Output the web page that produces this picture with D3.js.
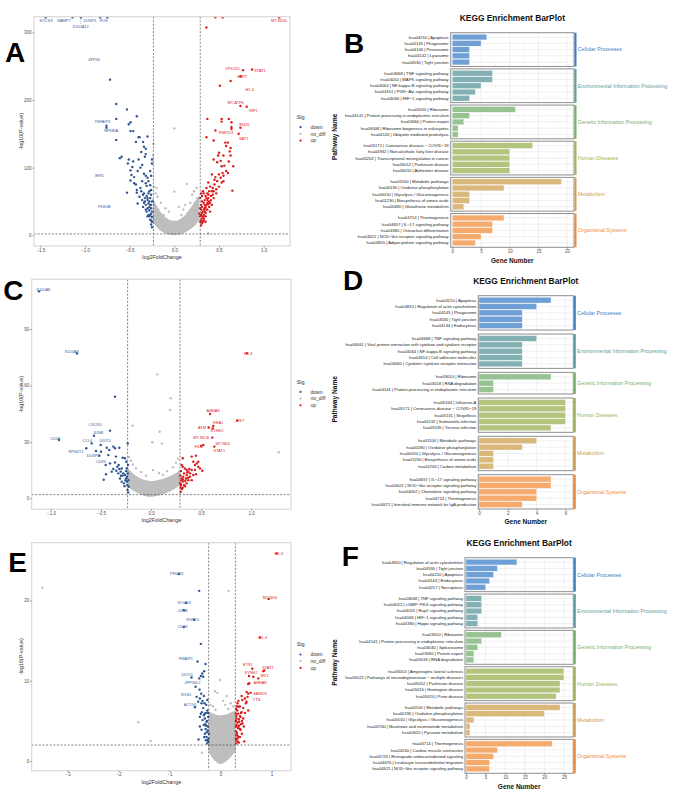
<!DOCTYPE html>
<html>
<head>
<meta charset="utf-8">
<title>Volcano plots and KEGG enrichment bar plots</title>
<script src="https://d3js.org/d3.v7.min.js"></script>
<style>
  body { margin: 0; background: #fff; }
  svg { display: block; }
  text { font-family: "Liberation Sans", Arial, sans-serif; }
</style>
</head>
<body>
<svg width="685" height="802"></svg>
<script>
// ---------- volcano data (log2FoldChange, -log10(P-value)) ----------
const volcA_down = [
  [-1.44,322],[-1.14,322],[-1.045,322],[-0.83,322],[-0.75,322],
  [-0.72,230],[-0.65,194],[-0.65,172],[-0.53,186],[-0.42,176],[-0.49,167],[-0.51,164],[-0.76,162],[-0.76,159],
  [-0.49,154],[-0.46,154],[-0.65,141],[-0.43,138],[-0.40,145],[-0.39,145],[-0.30,146],[-0.35,138],[-0.34,131],
  [-0.32,128],[-0.37,123],[-0.59,116],[-0.61,114],[-0.51,112],[-0.52,106],[-0.46,109],[-0.47,101],[-0.49,96],
  [-0.40,112],[-0.32,120],[-0.33,116],[-0.25,112],[-0.25,106],[-0.48,89],[-0.45,86],[-0.49,81],[-0.45,77],
  [-0.43,75],[-0.34,91],[-0.32,88],[-0.32,77],[-0.31,73],[-0.53,63],[-0.42,67],[-0.42,63],[-0.39,57],[-0.36,52],
  [-0.34,62],[-0.27,74],[-0.26,67],[-0.26,60],[-0.41,47],[-0.35,42],[-0.32,45],[-0.30,40],[-0.28,37],[-0.26,32],
  [-0.25,27],[-0.27,23],[-0.25,12],[-0.33,50],[-0.30,55],[-0.28,50],[-0.27,45],[-0.31,35],[-0.29,30],[-0.26,40],
  [-0.25,50],[-0.38,70],[-0.36,80],[-0.30,85],[-0.28,65],[-0.41,95],[-0.38,100],[-0.36,104],[-0.27,95],[-0.26,88],
  [-0.29,80],[-0.25,20],[-0.26,16],[-0.28,28],
  [-0.26,22],[-0.27,30],[-0.28,42],[-0.29,47],[-0.30,52],[-0.31,58],[-0.33,55],[-0.35,60],[-0.37,65],[-0.29,62],
  [-0.27,55],[-0.25,35],[-0.26,45],[-0.30,28],[-0.32,38],[-0.34,48]
];
const volcA_up = [
  [0.46,322],[0.54,322],[1.175,322],[0.36,307],[0.77,244],[0.87,245],[0.74,235],[0.63,228],[0.51,221],
  [0.74,191],[0.81,190],[0.37,172],[0.53,172],[0.53,168],[0.61,172],[0.64,167],[0.64,160],[0.64,157],[0.74,159],
  [0.72,150],[0.46,155],[0.36,145],[0.44,140],[0.57,137],[0.60,137],[0.58,132],[0.63,129],[0.62,124],[0.50,122],
  [0.49,118],[0.55,118],[0.52,110],[0.48,108],[0.44,112],[0.61,109],[0.63,118],[0.66,102],[0.56,103],[0.53,102],
  [0.58,95],[0.54,92],[0.50,90],[0.46,86],[0.42,90],[0.45,82],[0.48,80],[0.52,85],[0.55,88],[0.60,92],[0.65,66],
  [0.38,78],[0.36,70],[0.40,72],[0.43,70],[0.47,68],[0.50,72],[0.53,78],[0.33,62],[0.35,58],[0.38,60],[0.41,58],
  [0.44,55],[0.47,62],[0.31,50],[0.33,48],[0.36,45],[0.39,50],[0.42,45],[0.30,38],[0.32,35],[0.34,40],[0.37,38],
  [0.40,35],[0.29,28],[0.31,25],[0.33,30],[0.35,28],[0.29,20],[0.30,15],[0.32,20],[0.30,45],[0.28,32],[0.29,55],
  [0.30,62],[0.34,52],[0.45,75],[0.55,80],[0.31,42],[0.33,38],[0.35,33],[0.37,48],[0.39,42],[0.34,45],[0.36,55],
  [0.30,30],[0.31,33],[0.32,28],[0.33,25],[0.34,35],[0.35,42],[0.36,38],[0.37,52],[0.38,46],[0.40,48],[0.41,52],
  [0.43,60],[0.42,65],[0.39,65],[0.37,62],[0.31,58],[0.32,65],[0.29,40],[0.30,22],[0.31,18],[0.33,22],[0.35,20],
  [0.38,55],[0.44,65]
];
const volcA_ns = [
  [0.0,158],[0.14,76],[0.0,64.5],[0.38,3],[-0.23,72],[-0.2,70],[-0.19,57],[-0.24,52],[-0.22,45],[-0.15,48],
  [-0.1,40],[-0.06,35],[0.05,42],[0.1,38],[0.12,45],[0.2,60],[0.22,65],[0.25,70],[0.26,55],[0.18,48],
  [-0.18,38],[-0.12,30],[0.08,30],[0.15,33],[-0.235,135],[-0.24,118],[-0.21,62],[0.24,45]
];
// dense centre of the non-significant cloud: [x, lower y, upper y]
const volcA_core = [
  [-0.24,20,56],[-0.2,12,44],[-0.15,6,33],[-0.1,2.5,26],[-0.05,0.5,22],[0,0,21],[0.05,0.5,22],
  [0.1,2.5,27],[0.15,6,34],[0.2,11,44],[0.25,17,54],[0.28,22,60]
];
const volcA_labels = [
  ["SOCS3",-1.437,317,"down"],["NAMPT",-1.235,317,"down"],["S100A12",-1.049,309,"down",-1.045,322],
  ["DUSP1",-0.944,317,"down"],["FOS",-0.791,317,"down"],["ZFP36",-0.899,260,"down"],
  ["TNFAIP3",-0.806,168.5,"down"],["NFKBIA",-0.709,154.7,"down"],["IER5",-0.84,88.7,"down"],
  ["PDE4B",-0.784,42.4,"down"],
  ["MT-ND4L",1.175,317,"up"],["VPS13C",0.653,245.8,"up"],["STAT1",0.959,242.9,"up"],["GBP2",0.757,235,"up"],
  ["H1-4",0.843,215.3,"up"],["MT-ATP6",0.687,196,"up"],["IRF1",0.884,184.2,"up"],["IFI44L",0.784,163.5,"up"],
  ["RNF213",0.578,152.2,"up"],["SAT1",0.776,143.3,"up"]
];

const volcC_down = [
  [-1.12,110],[-0.74,77],[-0.92,31],
  [-0.36,54],[-0.41,36],[-0.57,33.3],[-0.593,29.2],[-0.503,28.4],[-0.647,26.6],[-0.55,25.2],[-0.50,24.8],
  [-0.443,26.9],[-0.417,25.7],[-0.377,27.5],[-0.36,26.6],[-0.317,26.9],[-0.233,29.2],[-0.517,22.7],[-0.427,23],
  [-0.35,22.2],[-0.283,21.6],[-0.26,21.3],[-0.453,17.7],[-0.41,18.6],[-0.36,19.1],[-0.337,16.8],[-0.317,15.6],
  [-0.303,14.2],[-0.293,15.9],[-0.277,13.3],[-0.26,12.4],[-0.25,10.6],[-0.243,8.9],[-0.237,7.1],[-0.257,9.7],
  [-0.283,12.1],[-0.327,13.3],[-0.347,14.7],[-0.377,15.6],[-0.393,14.2],[-0.45,12.8],[-0.473,9.9],[-0.31,10.6],
  [-0.27,8],[-0.293,8.9],[-0.227,9.7],[-0.233,13.3],[-0.243,15.9],[-0.23,17.7],[-0.247,19.5],[-0.323,17.7],
  [-0.223,6.2],[-0.235,4.5],[-0.24,11.5],[-0.265,6.5],[-0.3,12],[-0.228,3.2],[-0.25,14.5]
];
const volcC_up = [
  [0.957,77.1],[0.863,41.3],[0.59,44.8],[0.577,37.7],[0.623,38.5],[0.617,37.2],[0.613,32.3],[0.523,28.4],
  [0.633,27.5],[0.50,27.8],[0.45,22.7],[0.317,21.3],[0.407,22.2],[0.423,19.5],[0.44,17.7],[0.457,18.6],
  [0.473,16.8],[0.49,15.9],[0.513,14.7],[0.317,16.8],[0.34,15.9],[0.357,15.1],[0.373,14.2],[0.39,13.3],
  [0.407,15.1],[0.357,12.4],[0.33,13.3],[0.307,10.6],[0.317,8.9],[0.30,7.1],[0.297,3.5],[0.323,11.5],
  [0.35,10.6],[0.373,9.7],[0.39,11.5],[0.423,12.4],[0.45,12.8],[0.407,9.7],[0.357,8],[0.317,5.7],[0.303,9.7],
  [0.33,7.1],[0.343,9.2],[0.363,13.8],[0.383,15.6],[0.44,15.1],[0.473,19.5],[0.307,17.7],[0.293,8],[0.31,5],
  [0.295,12],[0.3,14.5],[0.32,10],[0.34,6.5],[0.37,11],[0.296,5.8]
];
const volcC_ns = [
  [0.063,65.9],[0.197,53.2],[0.19,47],[-0.183,38.6],[0.087,35.4],[0.013,29.8],[0.11,29.1],[1.277,24.5],
  [-0.18,18],[-0.15,16],[-0.1,14],[0.02,15],[0.08,13.5],[0.16,14.5],[0.22,16.5],[0.25,19],[-0.2,20],
  [0.27,21],[-0.22,22],[-0.05,12],[0.12,12.5]
];
const volcC_core = [
  [-0.23,6,16],[-0.15,3,11.5],[-0.05,1,9.5],[0,0.8,9],[0.05,1,9.5],[0.15,2.5,10.8],[0.22,4.5,12.5],[0.29,7,15]
];
const volcC_labels = [
  ["S100A8",-1.077,110.8,"down"],["S100A9",-0.793,78,"down"],["CXCR4",-0.56,39.3,"down"],["JUNB",-0.53,35.1,"down"],
  ["CD69",-0.957,31.9,"down"],["CCL4",-0.637,30.7,"down"],["DDIT4",-0.46,30.7,"down"],["RPS4Y1",-0.75,24.6,"down"],
  ["DUSP2",-0.577,22.7,"down"],["CD83",-0.503,19.3,"down"],
  ["H1-4",0.973,77.1,"up"],["AHNAK",0.623,46.8,"up"],["XIST",0.89,41.3,"up"],["EEA1",0.673,40.4,"up"],
  ["ATM",0.51,37.6,"up"],["SYNE2",0.66,35.8,"up"],["MT-ND4L",0.507,32.3,"up"],["MT-ND6",0.717,28.9,"up"],
  ["H1-2",0.48,27.3,"up"],["STAT1",0.683,25.2,"up"]
];

const volcE_down = [
  [-0.82,23.3],[-0.68,19.7],[-0.72,18.8],[-0.52,17.6],[-0.72,16.7],
  [-0.418,21.2],[-0.386,14.6],[-0.451,12.4],[-0.294,12.1],[-0.32,11.2],[-0.359,10.9],[-0.386,10.6],[-0.34,10.5],
  [-0.418,10.3],[-0.569,10.4],[-0.49,9.25],[-0.412,8.9],[-0.379,8.4],[-0.327,8.1],[-0.405,7.8],[-0.438,7.4],
  [-0.373,7.2],[-0.314,7.2],[-0.503,6.7],[-0.34,6.6],[-0.366,6.1],[-0.386,5.9],[-0.327,5.7],[-0.405,5.5],
  [-0.307,5.3],[-0.353,5.1],[-0.275,4.9],[-0.327,4.5],[-0.405,4.3],[-0.431,2.7],[-0.373,3.9],[-0.307,3.4],
  [-0.275,3.0],[-0.288,2.6],[-0.261,2.2],[-0.294,4.0],[-0.248,4.3],[-0.242,5.5],[-0.26,6.3],[-0.29,6.0],
  [-0.229,3.4],[-0.235,2.8],[-0.28,7.0],[-0.353,7.5],[-0.47,8.0],[-0.25,3.8],[-0.24,2.4],[-0.265,5.0],
  [-0.32,3.0],[-0.3,4.6],[-0.245,6.0],[-0.255,2.6],[-0.27,3.6],[-0.28,4.4],[-0.31,5.9],[-0.26,7.6]
];
const volcE_up = [
  [1.098,25.85],[0.941,20.2],[0.771,15.4],[0.621,11.5],[0.837,11.2],[0.856,11.3],[0.641,10.5],[0.556,10.6],
  [0.739,10.3],[0.542,9.6],[0.562,9.7],[0.51,8.6],[0.542,8.4],[0.588,8.5],[0.412,8.1],[0.425,7.6],[0.477,7.8],
  [0.51,7.4],[0.529,8.0],[0.497,7.2],[0.379,6.8],[0.444,6.6],[0.412,6.1],[0.477,6.0],[0.346,5.9],[0.392,5.5],
  [0.444,5.3],[0.314,5.3],[0.366,4.9],[0.431,4.7],[0.314,4.5],[0.346,4.1],[0.392,3.9],[0.301,3.7],[0.327,3.2],
  [0.379,3.0],[0.301,2.8],[0.34,2.4],[0.307,2.2],[0.464,2.45],[0.301,4.3],[0.301,5.9],[0.327,6.3],[0.457,4.3],
  [0.418,3.4],[0.353,6.8],[0.333,7.2],[0.542,6.3],[0.31,2.6],[0.32,3.5],[0.36,4.4],[0.3,5.0],[0.35,3.0],
  [0.38,5.6],[0.33,4.8],[0.4,4.6],[0.305,6.5],[0.36,2.3],
  [0.31,3.2],[0.33,2.8],[0.34,4.2],[0.36,5.2],[0.38,4.0],[0.40,6.0],[0.42,5.0],[0.31,5.6],[0.32,6.8],[0.35,7.5]
];
const volcE_ns = [
  [-3.49,21.6],[0.157,21.2],[-1.61,4.85],[-1.37,2.5],[-0.013,10.1],[-0.11,8.7],[-0.06,8.5],[0.118,8.1],
  [0.092,7.0],[-0.366,1.04],[-0.2,7],[0.2,7.2],[-0.15,6.8],[0.05,7.5],[0.25,6.8],[-0.1,6.4],[0.15,6.5]
];
const volcE_core = [
  [-0.235,1.2,6.2],[-0.15,0.2,5.9],[-0.05,-0.3,5.7],[0,-0.4,5.7],[0.05,-0.3,5.7],[0.15,0.1,5.9],[0.294,1.2,6.3]
];
const volcE_labels = [
  ["PRDM1",-0.856,23.3,"down"],["SOCS3",-0.712,19.7,"down"],["JUNB",-0.745,18.8,"down"],["RGS10",-0.549,17.6,"down"],
  ["CD69",-0.745,16.7,"down"],["PMAIP1",-0.68,12.8,"down"],["DDIT4",-0.654,10.8,"down"],["ZFP36L2",-0.549,9.8,"down"],
  ["RGS1",-0.673,8.3,"down"],["ACTG1",-0.595,7.05,"down"],
  ["H1-4",1.137,25.85,"up"],["MT-ND6",0.967,20.3,"up"],["H1-3",0.824,15.4,"up"],["ETS1",0.536,12.0,"up"],
  ["STAT1",0.928,11.7,"up"],["SYNE2",0.595,11.0,"up"],["MX1",0.863,10.66,"up"],["AHNAK",0.778,9.75,"up"],
  ["SAMD9",0.771,8.4,"up"],["TTN",0.706,7.6,"up"]
];

// ---------- KEGG data ----------
const categories = ["Cellular Processes", "Environmental Information Processing", "Genetic Information Processing",
  "Human Diseases", "Metabolism", "Organismal Systems"];

const keggB_terms = [
  "hsa04210 | Apoptosis", "hsa04145 | Phagosome", "hsa04146 | Peroxisome", "hsa04142 | Lysosome", "hsa04530 | Tight junction",
  "hsa04668 | TNF signaling pathway", "hsa04010 | MAPK signaling pathway", "hsa04064 | NF-kappa B signaling pathway",
  "hsa04151 | PI3K−Akt signaling pathway", "hsa04066 | HIF−1 signaling pathway",
  "hsa03010 | Ribosome", "hsa04141 | Protein processing in endoplasmic reticulum", "hsa03060 | Protein export",
  "hsa03008 | Ribosome biogenesis in eukaryotes", "hsa04120 | Ubiquitin mediated proteolysis",
  "hsa05171 | Coronavirus disease − COVID−19", "hsa04932 | Non-alcoholic fatty liver disease",
  "hsa05202 | Transcriptional misregulation in cancer", "hsa05012 | Parkinson disease", "hsa05010 | Alzheimer disease",
  "hsa01100 | Metabolic pathways", "hsa00190 | Oxidative phosphorylation", "hsa00010 | Glycolysis / Gluconeogenesis",
  "hsa01230 | Biosynthesis of amino acids", "hsa00480 | Glutathione metabolism",
  "hsa04714 | Thermogenesis", "hsa04657 | IL−17 signaling pathway", "hsa04380 | Osteoclast differentiation",
  "hsa04621 | NOD−like receptor signaling pathway", "hsa04920 | Adipocytokine signaling pathway"
];
const keggB_counts = [6,5,3,3,3, 7,7,5,4,3, 11,3,2,1,1, 14,10,10,10,10, 19,9,3,3,2, 9,7,7,5,4];
const keggB_groups = [0,0,0,0,0, 1,1,1,1,1, 2,2,2,2,2, 3,3,3,3,3, 4,4,4,4,4, 5,5,5,5,5];

const keggD_terms = [
  "hsa04210 | Apoptosis", "hsa04810 | Regulation of actin cytoskeleton", "hsa04145 | Phagosome",
  "hsa04530 | Tight junction", "hsa04144 | Endocytosis",
  "hsa04668 | TNF signaling pathway", "hsa04061 | Viral protein interaction with cytokine and cytokine receptor",
  "hsa04064 | NF-kappa B signaling pathway", "hsa04514 | Cell adhesion molecules",
  "hsa04060 | Cytokine−cytokine receptor interaction",
  "hsa03010 | Ribosome", "hsa03018 | RNA degradation", "hsa04141 | Protein processing in endoplasmic reticulum",
  "hsa05164 | Influenza A", "hsa05171 | Coronavirus disease − COVID−19", "hsa05131 | Shigellosis",
  "hsa05132 | Salmonella infection", "hsa05135 | Yersinia infection",
  "hsa01100 | Metabolic pathways", "hsa00190 | Oxidative phosphorylation", "hsa00010 | Glycolysis / Gluconeogenesis",
  "hsa01230 | Biosynthesis of amino acids", "hsa01200 | Carbon metabolism",
  "hsa04657 | IL−17 signaling pathway", "hsa04621 | NOD−like receptor signaling pathway",
  "hsa04062 | Chemokine signaling pathway", "hsa04714 | Thermogenesis",
  "hsa04672 | Intestinal immune network for IgA production"
];
const keggD_counts = [5,4,3,3,3, 4,3,3,3,3, 5,1,1, 6,6,6,6,5, 4,3,1,1,1, 5,5,4,4,3];
const keggD_groups = [0,0,0,0,0, 1,1,1,1,1, 2,2,2, 3,3,3,3,3, 4,4,4,4,4, 5,5,5,5,5];

const keggF_terms = [
  "hsa04810 | Regulation of actin cytoskeleton", "hsa04530 | Tight junction", "hsa04210 | Apoptosis",
  "hsa04144 | Endocytosis", "hsa04217 | Necroptosis",
  "hsa04668 | TNF signaling pathway", "hsa04022 | cGMP−PKG signaling pathway", "hsa04015 | Rap1 signaling pathway",
  "hsa04066 | HIF−1 signaling pathway", "hsa04390 | Hippo signaling pathway",
  "hsa03010 | Ribosome", "hsa04141 | Protein processing in endoplasmic reticulum", "hsa03040 | Spliceosome",
  "hsa03060 | Protein export", "hsa03018 | RNA degradation",
  "hsa05014 | Amyotrophic lateral sclerosis", "hsa05022 | Pathways of neurodegeneration − multiple diseases",
  "hsa05012 | Parkinson disease", "hsa05016 | Huntington disease", "hsa05020 | Prion disease",
  "hsa01100 | Metabolic pathways", "hsa00190 | Oxidative phosphorylation", "hsa00010 | Glycolysis / Gluconeogenesis",
  "hsa00760 | Nicotinate and nicotinamide metabolism", "hsa00620 | Pyruvate metabolism",
  "hsa04714 | Thermogenesis", "hsa04260 | Cardiac muscle contraction", "hsa04723 | Retrograde endocannabinoid signaling",
  "hsa04670 | Leukocyte transendothelial migration", "hsa04621 | NOD−like receptor signaling pathway"
];
const keggF_counts = [13,8,7,6,5, 4,4,4,3,3, 9,4,3,2,2, 25,25,24,24,23, 24,20,2,1,1, 22,8,7,6,6];
const keggF_groups = [0,0,0,0,0, 1,1,1,1,1, 2,2,2,2,2, 3,3,3,3,3, 4,4,4,4,4, 5,5,5,5,5];

// ---------- styles ----------
const width = 685, height = 802;
const svg = d3.select("svg").attr("width", width).attr("height", height);

const sigColor = { down: "#2D5592", no_diff: "#BEBEBE", up: "#DD1A1A" };
const labelColor = { down: "#3B5C9C", up: "#E0241F" };
const barColor = ["#6E9FD5", "#83B1B3", "#97C292", "#B3C47E", "#DAB77B", "#F5AB6E"];
const stripColor = ["#3D7DC4", "#5E9C9E", "#78AE70", "#A2B455", "#D0A050", "#F08B3C"];

// panel letters
[["A", 5, 61.7], ["B", 344, 53.3], ["C", 3.3, 300], ["D", 343, 290], ["E", 8.3, 571.7], ["F", 341.7, 566]]
  .forEach(([t, x, y]) => svg.append("text").attr("x", x).attr("y", y)
    .attr("font-size", 28).attr("font-weight", "bold").attr("fill", "#000").text(t));

function styleAxis(g) {
  g.select(".domain").remove();
  g.selectAll(".tick line").attr("stroke", "#333").attr("stroke-width", 0.5);
  g.selectAll(".tick text").attr("font-size", 4.5).attr("fill", "#4d4d4d")
    .attr("font-family", "Liberation Sans, Arial, sans-serif");
}

function drawVolcano(c) {
  const x = d3.scaleLinear().domain(c.xDomain).range([c.left, c.right]);
  const y = d3.scaleLinear().domain(c.yDomain).range([c.bottom, c.top]);
  const g = svg.append("g");
  const clipId = "clip-" + c.id;
  g.append("clipPath").attr("id", clipId).append("rect")
    .attr("x", c.left).attr("y", c.top).attr("width", c.right - c.left).attr("height", c.bottom - c.top);
  const plot = g.append("g").attr("clip-path", `url(#${clipId})`);

  const area = d3.area().x(d => x(d[0])).y0(d => y(d[1])).y1(d => y(d[2])).curve(d3.curveBasis);
  plot.append("path").datum(c.core).attr("d", area).attr("fill", sigColor.no_diff);

  [["no_diff", c.ns], ["down", c.down], ["up", c.up]].forEach(([k, pts]) => {
    plot.selectAll(null).data(pts).enter().append("circle")
      .attr("cx", d => x(d[0])).attr("cy", d => y(d[1])).attr("r", 1.2)
      .attr("fill", sigColor[k]);
  });

  // thresholds
  c.vlines.forEach(v => plot.append("line").attr("x1", x(v)).attr("x2", x(v))
    .attr("y1", c.top).attr("y2", c.bottom)
    .attr("stroke", "#333").attr("stroke-width", 0.6).attr("stroke-dasharray", "2,1.6"));
  plot.append("line").attr("x1", c.left).attr("x2", c.right).attr("y1", y(c.hline)).attr("y2", y(c.hline))
    .attr("stroke", "#333").attr("stroke-width", 0.6).attr("stroke-dasharray", "2,1.6");

  // gene labels
  c.labels.forEach(l => {
    if (l.length > 4) {
      plot.append("line").attr("x1", x(l[4])).attr("y1", y(l[5]))
        .attr("x2", x(l[1])).attr("y2", y(l[2]) - 2.2)
        .attr("stroke", "#777").attr("stroke-width", 0.3);
    }
    plot.append("text").attr("x", x(l[1])).attr("y", y(l[2])).attr("dy", "0.35em")
      .attr("text-anchor", "middle").attr("font-size", 3.9).attr("fill", labelColor[l[3]]).text(l[0]);
  });

  g.append("rect").attr("x", c.left).attr("y", c.top).attr("width", c.right - c.left)
    .attr("height", c.bottom - c.top).attr("fill", "none").attr("stroke", "#d9d9d9").attr("stroke-width", 1.2);

  const xa = g.append("g").attr("transform", `translate(0,${c.bottom})`)
    .call(d3.axisBottom(x).tickValues(c.xTicks).tickFormat(d3.format(c.xFmt)).tickSize(1.5).tickPadding(1));
  styleAxis(xa);
  const ya = g.append("g").attr("transform", `translate(${c.left},0)`)
    .call(d3.axisLeft(y).tickValues(c.yTicks).tickSize(1.5).tickPadding(1));
  styleAxis(ya);

  g.append("text").attr("x", (c.left + c.right) / 2).attr("y", c.bottom + 11).attr("dy", "0.35em")
    .attr("text-anchor", "middle").attr("font-size", 5.4).attr("fill", "#333").text("log2FoldChange");
  g.append("text").attr("transform", `translate(20.7,${(c.top + c.bottom) / 2}) rotate(-90)`)
    .attr("dy", "0.35em").attr("text-anchor", "middle").attr("font-size", 5.4).attr("fill", "#333")
    .text("-log10(P-value)");

  // legend
  g.append("text").attr("x", 296.7).attr("y", c.legendY).attr("dy", "0.35em")
    .attr("font-size", 5.5).attr("fill", "#333").text("Sig");
  ["down", "no_diff", "up"].forEach((k, i) => {
    const ly = c.legendY + 10.2 + i * 6.7;
    g.append("circle").attr("cx", 300.5).attr("cy", ly).attr("r", 1.1).attr("fill", sigColor[k]);
    g.append("text").attr("x", 310.5).attr("y", ly).attr("dy", "0.35em")
      .attr("font-size", 5).attr("fill", "#333").text(k);
  });
}

function drawKegg(c) {
  const x = d3.scaleLinear().domain(c.xDomain).range([c.left, c.right]);
  const rows = c.terms.map((t, i) => ({ term: t, count: c.counts[i], group: c.groups[i] }));
  const facets = categories.map((cat, i) => ({ cat, i, rows: rows.filter(r => r.group === i) }))
    .filter(f => f.rows.length);
  const units = d3.sum(facets, f => f.rows.length + 0.4);
  const u = (c.bottom - c.top - c.gap * (facets.length - 1)) / units;
  const g = svg.append("g");

  let top = c.top;
  facets.forEach(f => {
    const h = (f.rows.length + 0.4) * u;
    const yb = d3.scaleBand().domain(f.rows.map(r => r.term))
      .range([top + 0.2 * u, top + h - 0.2 * u]).paddingInner(0.1).paddingOuter(0.05);
    const fg = g.append("g");
    fg.append("rect").attr("x", c.left).attr("y", top).attr("width", c.right - c.left).attr("height", h)
      .attr("fill", "#fff");
    c.minor.forEach(v => fg.append("line").attr("x1", x(v)).attr("x2", x(v)).attr("y1", top).attr("y2", top + h)
      .attr("stroke", "#f2f2f2").attr("stroke-width", 0.4));
    c.ticks.forEach(v => fg.append("line").attr("x1", x(v)).attr("x2", x(v)).attr("y1", top).attr("y2", top + h)
      .attr("stroke", "#e6e6e6").attr("stroke-width", 0.6));
    f.rows.forEach(r => fg.append("line").attr("x1", c.left).attr("x2", c.right)
      .attr("y1", yb(r.term) + yb.bandwidth() / 2).attr("y2", yb(r.term) + yb.bandwidth() / 2)
      .attr("stroke", "#e6e6e6").attr("stroke-width", 0.6));
    fg.selectAll(null).data(f.rows).enter().append("rect")
      .attr("x", x(0)).attr("y", d => yb(d.term))
      .attr("width", d => x(d.count) - x(0)).attr("height", yb.bandwidth())
      .attr("fill", barColor[f.i]).attr("stroke", "#fff").attr("stroke-width", 0.3);
    fg.append("rect").attr("x", c.left).attr("y", top).attr("width", c.right - c.left).attr("height", h)
      .attr("fill", "none").attr("stroke", "#8f8f8f").attr("stroke-width", 1);
    fg.append("rect").attr("x", c.right + 0.5).attr("y", top).attr("width", 2).attr("height", h)
      .attr("fill", stripColor[f.i]);
    fg.selectAll(null).data(f.rows).enter().append("text")
      .attr("x", c.left - 2).attr("y", d => yb(d.term) + yb.bandwidth() / 2).attr("dy", "0.35em")
      .attr("text-anchor", "end").attr("font-size", 4.2).attr("fill", "#222").text(d => d.term);
    fg.append("text").attr("x", c.right + 3.8).attr("y", top + h / 2).attr("dy", "0.35em")
      .attr("font-size", 5.3).attr("fill", stripColor[f.i]).text(f.cat);
    top += h + c.gap;
  });

  const xa = g.append("g").attr("transform", `translate(0,${c.bottom})`)
    .call(d3.axisBottom(x).tickValues(c.ticks).tickFormat(d3.format("d")).tickSize(1.5).tickPadding(1.2));
  styleAxis(xa);

  g.append("text").attr("x", (c.left + c.right) / 2).attr("y", c.titleY).attr("dy", "0.35em")
    .attr("text-anchor", "middle").attr("font-size", 8.4).attr("font-weight", "bold").attr("fill", "#111")
    .text("KEGG Enrichment BarPlot");
  g.append("text").attr("x", (c.left + c.right) / 2).attr("y", c.bottom + 13).attr("dy", "0.35em")
    .attr("text-anchor", "middle").attr("font-size", 6.5).attr("font-weight", "bold").attr("fill", "#111")
    .text("Gene Number");
  g.append("text").attr("transform", `translate(334.3,${(c.top + c.bottom) / 2 - 3}) rotate(-90)`)
    .attr("dy", "0.35em").attr("text-anchor", "middle").attr("font-size", 6.6).attr("font-weight", "bold")
    .attr("fill", "#111").text("Pathway Name");
}

drawVolcano({
  id: "A", left: 34, right: 290, top: 16.7, bottom: 246,
  xDomain: [-1.571, 1.295], yDomain: [-15.8, 323],
  xTicks: [-1.5, -1, -0.5, 0, 0.5, 1], xFmt: ".1f", yTicks: [0, 100, 200, 300],
  vlines: [-0.234, 0.29], hline: 2,
  down: volcA_down, up: volcA_up, ns: volcA_ns, core: volcA_core, labels: volcA_labels, legendY: 117
});
drawVolcano({
  id: "C", left: 31.7, right: 291, top: 279.3, bottom: 509.3,
  xDomain: [-1.193, 1.4], yDomain: [-5.8, 116.4],
  xTicks: [-1, -0.5, 0, 0.5, 1], xFmt: ".1f", yTicks: [0, 30, 60, 90],
  vlines: [-0.234, 0.29], hline: 2,
  down: volcC_down, up: volcC_up, ns: volcC_ns, core: volcC_core, labels: volcC_labels, legendY: 381.7
});
drawVolcano({
  id: "E", left: 31.7, right: 291, top: 542.7, bottom: 770.7,
  xDomain: [-3.7, 1.38], yDomain: [-1.2, 27.2],
  xTicks: [-3, -2, -1, 0, 1], xFmt: "d", yTicks: [0, 10, 20],
  vlines: [-0.234, 0.29], hline: 2,
  down: volcE_down, up: volcE_up, ns: volcE_ns, core: volcE_core, labels: volcE_labels, legendY: 644.3
});

drawKegg({
  terms: keggB_terms, counts: keggB_counts, groups: keggB_groups,
  left: 450.7, right: 574, top: 32.7, bottom: 247.3, gap: 2.4,
  xDomain: [-0.28, 21.2], ticks: [0, 5, 10, 15, 20], minor: [2.5, 7.5, 12.5, 17.5], titleY: 18.3
});
drawKegg({
  terms: keggD_terms, counts: keggD_counts, groups: keggD_groups,
  left: 478.3, right: 573.3, top: 295.7, bottom: 509, gap: 4,
  xDomain: [-0.05, 6.55], ticks: [0, 2, 4, 6], minor: [1, 3, 5], titleY: 280.7
});
drawKegg({
  terms: keggF_terms, counts: keggF_counts, groups: keggF_groups,
  left: 465, right: 573.3, top: 557.7, bottom: 773.3, gap: 2.4,
  xDomain: [-0.26, 27.4], ticks: [0, 5, 10, 15, 20, 25], minor: [2.5, 7.5, 12.5, 17.5, 22.5], titleY: 543.3
});
</script>
</body>
</html>
